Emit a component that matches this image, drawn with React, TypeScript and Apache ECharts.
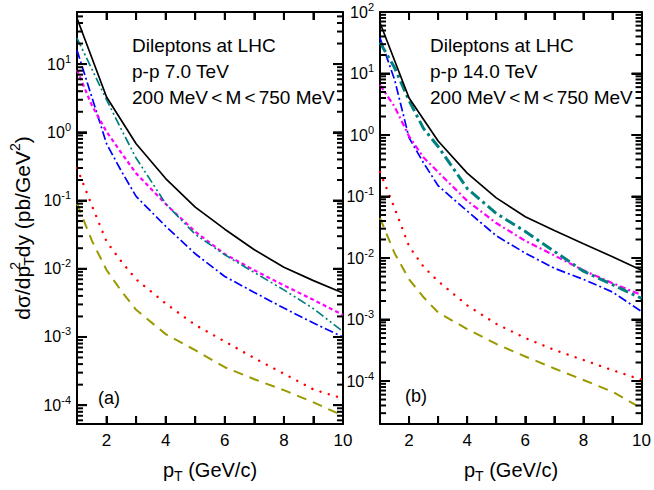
import React, { useEffect, useRef } from "react";
import * as echarts from "echarts";

const FONT = "'Liberation Sans', Arial, Helvetica, sans-serif";

// x grids
const xInt = [1, 2, 3, 4, 5, 6, 7, 8, 9, 10];
const xFine = [1, 1.5, 2, 2.5, 3, 4, 5, 6, 7, 8, 9, 10];

// Panel (a): p-p 7.0 TeV
const aTotal = [47, 3.3, 0.68, 0.21, 0.08, 0.038, 0.019, 0.0105, 0.0067, 0.0044];
const aTeal = [24, 8.5, 3.0, 1.1, 0.42, 0.09, 0.032, 0.016, 0.0088, 0.0049, 0.0026, 0.0012];
const aMagenta = [8.2, 2.5, 1.02, 0.5, 0.25, 0.089, 0.035, 0.0164, 0.0095, 0.0057, 0.0035, 0.0021];
const aBlue = [16, 3.3, 0.68, 0.27, 0.115, 0.042, 0.0166, 0.0077, 0.0045, 0.00265, 0.0016, 0.001];
const aRed = [0.3, 0.085, 0.025, 0.0128, 0.007, 0.0031, 0.0015, 0.00086, 0.00049, 0.00029, 0.00017, 0.000125];
const aOlive = [0.09, 0.026, 0.0096, 0.0047, 0.0025, 0.0011, 0.00064, 0.00036, 0.00024, 0.000166, 0.00011, 0.00007];

// Panel (b): p-p 14.0 TeV
const bTotal = [67, 4.0, 0.8, 0.24, 0.095, 0.047, 0.028, 0.017, 0.0105, 0.0063];
const bTeal = [32, 12.5, 3.6, 1.27, 0.65, 0.135, 0.053, 0.027, 0.0128, 0.0061, 0.0037, 0.0022];
const bMagenta = [6.5, 2.9, 0.95, 0.43, 0.25, 0.085, 0.037, 0.019, 0.011, 0.0063, 0.0039, 0.0025];
const bBlue = [38, 8, 0.9, 0.35, 0.15, 0.058, 0.023, 0.012, 0.0068, 0.0045, 0.0028, 0.00135];
const bRed = [0.25, 0.065, 0.0155, 0.0072, 0.0042, 0.0017, 0.00085, 0.0005, 0.00032, 0.00022, 0.00015, 0.000105];
const bOlive = [0.045, 0.012, 0.0045, 0.0023, 0.0013, 0.0007, 0.0004, 0.00025, 0.00016, 0.000104, 0.000067, 0.000036];

// axis ranges and ticks
const A_MIN = 5.3e-5;
const A_MAX = 58;
const B_MIN = 2e-5;
const B_MAX = 100;
const X_MIN = 1;
const X_MAX = 10;
const yMajorA = [1e-4, 1e-3, 1e-2, 1e-1, 1, 10];
const yMajorB = [1e-4, 1e-3, 1e-2, 1e-1, 1, 10, 100];
const xTickVals = [2, 3, 4, 5, 6, 7, 8, 9];
const xLabelVals = [2, 4, 6, 8, 10];

const textLines = ["Dileptons at LHC", "200 MeV\u2006<\u2006M\u2006<\u2006750 MeV"];
const energyA = "p-p 7.0 TeV";
const energyB = "p-p 14.0 TeV";

const Y_MAJOR_LEN = 10;
const Y_MINOR_LEN = 6;
const X_TICK_LEN = 8;
const TICK_W = 2;
const FRAME_W = 2;

function minorTicks(min: number, max: number): number[] {
  const out: number[] = [];
  for (let e = -6; e <= 3; e++) {
    for (let k = 2; k <= 9; k++) {
      const v = k * Math.pow(10, e);
      if (v > min && v < max) out.push(v);
    }
  }
  return out;
}

function pairs(xs: number[], ys: number[]) {
  return xs.map((x, i) => [x, ys[i]]);
}

function yTickList(yMin: number, yMax: number, majors: number[]) {
  return majors
    .filter((v) => v > yMin && v < yMax)
    .map((v) => ({ v, len: Y_MAJOR_LEN }))
    .concat(minorTicks(yMin, yMax).map((v) => ({ v, len: Y_MINOR_LEN })));
}

function yAxes(grid: number, min: number, max: number, majors: number[]) {
  const line = { show: true, lineStyle: { color: "#000", width: FRAME_W } };
  const tick = {
    show: true,
    inside: true,
    length: Y_MAJOR_LEN,
    customValues: majors,
    lineStyle: { color: "#000", width: TICK_W },
  };
  const base = {
    gridIndex: grid,
    type: "log",
    min,
    max,
    splitLine: { show: false },
    minorTick: { show: false },
  };
  return [
    {
      ...base,
      position: "left",
      axisLine: line,
      axisTick: tick,
      axisLabel: {
        show: true,
        customValues: majors,
        margin: 6,
        formatter: (v: number) => `{b|10}{e|${Math.round(Math.log10(v))}}`,
        rich: {
          b: { fontSize: 16, fontFamily: FONT, color: "#000", lineHeight: 22, verticalAlign: "middle" },
          e: { fontSize: 11, fontFamily: FONT, color: "#000", lineHeight: 12, verticalAlign: "top" },
        },
      },
    },
    {
      ...base,
      position: "right",
      axisLine: line,
      axisTick: tick,
      axisLabel: { show: false },
    },
  ];
}

function xAxes(grid: number) {
  const line = { show: true, lineStyle: { color: "#000", width: FRAME_W } };
  const base = {
    gridIndex: grid,
    type: "value",
    min: X_MIN,
    max: X_MAX,
    splitLine: { show: false },
    axisLine: line,
    axisTick: {
      show: true,
      inside: true,
      length: X_TICK_LEN,
      customValues: xTickVals,
      lineStyle: { color: "#000", width: TICK_W },
    },
  };
  return [
    {
      ...base,
      position: "bottom",
      axisLabel: { show: true, customValues: xLabelVals, fontSize: 17, fontFamily: FONT, color: "#000", margin: 8 },
    },
    { ...base, position: "top", axisLabel: { show: false } },
  ];
}

type Def = { xs: number[]; ys: number[]; color: string; width: number; dash: any; cap?: string };

function panelSeries(defs: Def[], grid: number) {
  return defs.map((d) => ({
    type: "line",
    xAxisIndex: grid * 2,
    yAxisIndex: grid * 2,
    data: pairs(d.xs, d.ys),
    showSymbol: false,
    symbol: "none",
    lineStyle: { color: d.color, width: d.width, type: d.dash, cap: d.cap || "butt" },
  }));
}

const TEAL = "#008080";
const BLUE = "#0000ff";
const MAGENTA = "#ff00ff";
const RED = "#ff0000";
const OLIVE = "#9a9a00";

export default function App() {
  const ref = useRef<HTMLDivElement>(null);
  useEffect(() => {
    if (!ref.current) return;
    const chart = echarts.init(ref.current, undefined, { renderer: "svg" });

    const defsA: Def[] = [
      { xs: xFine, ys: aOlive, color: OLIVE, width: 2, dash: [10, 7] },
      { xs: xFine, ys: aRed, color: RED, width: 2.4, dash: [0.1, 8.5], cap: "round" },
      { xs: xFine, ys: aBlue, color: BLUE, width: 1.7, dash: [9, 3, 2, 3] },
      { xs: xFine, ys: aMagenta, color: MAGENTA, width: 2.2, dash: [4, 3] },
      { xs: xFine, ys: aTeal, color: TEAL, width: 1.7, dash: [9, 3, 2, 3, 2, 3] },
      { xs: xInt, ys: aTotal, color: "#000000", width: 1.7, dash: "solid" },
    ];
    const defsB: Def[] = [
      { xs: xFine, ys: bOlive, color: OLIVE, width: 2, dash: [10, 7] },
      { xs: xFine, ys: bRed, color: RED, width: 2.4, dash: [0.1, 8.5], cap: "round" },
      { xs: xFine, ys: bBlue, color: BLUE, width: 1.7, dash: [9, 3, 2, 3] },
      { xs: xFine, ys: bMagenta, color: MAGENTA, width: 2.2, dash: [6, 3, 2, 3] },
      { xs: xFine, ys: bTeal, color: TEAL, width: 3, dash: [11, 4, 3, 4] },
      { xs: xInt, ys: bTotal, color: "#000000", width: 1.7, dash: "solid" },
    ];

    const txt = (x: number, y: number, text: string, size = 19) => ({
      type: "text",
      x,
      y,
      silent: true,
      style: {
        text,
        fontSize: size,
        fontFamily: FONT,
        fill: "#000",
        textVerticalAlign: "middle",
        verticalAlign: "middle",
      },
    });

    const xTitle = (cx: number) => ({
      type: "text",
      x: cx,
      y: 470,
      silent: true,
      style: {
        text: "p{sub|T} (GeV/c)",
        fontSize: 20,
        fontFamily: FONT,
        fill: "#000",
        textAlign: "center",
        align: "center",
        textVerticalAlign: "middle",
        verticalAlign: "middle",
        rich: {
          sub: { fontSize: 14, fontFamily: FONT, fill: "#000", lineHeight: 14, verticalAlign: "bottom" },
        },
        lineHeight: 26,
      },
    });

    const texts: any[] = [
      txt(132, 45.5, textLines[0]),
      txt(132, 71.5, energyA),
      txt(132, 97.5, textLines[1]),
      txt(430, 45.5, textLines[0]),
      txt(430, 71.5, energyB),
      txt(430, 97.5, textLines[1]),
      txt(98, 398, "(a)", 18),
      txt(405, 396, "(b)", 18),
      xTitle(210),
      xTitle(511),
      {
        type: "text",
        x: 22,
        y: 228,
        rotation: Math.PI / 2,
        silent: true,
        style: {
          text: "d\u03c3/dp{s2|2}{st|T}dy (pb/GeV{s|2})",
          fontSize: 21,
          fontFamily: FONT,
          fill: "#000",
          textAlign: "center",
          align: "center",
          textVerticalAlign: "middle",
          verticalAlign: "middle",
          lineHeight: 28,
          rich: {
            s2: { fontSize: 14, fontFamily: FONT, fill: "#000", lineHeight: 14, verticalAlign: "top", width: 0.1 },
            st: { fontSize: 14, fontFamily: FONT, fill: "#000", lineHeight: 14, verticalAlign: "bottom" },
            s: { fontSize: 14, fontFamily: FONT, fill: "#000", lineHeight: 14, verticalAlign: "top" },
          },
        },
      },
    ];

    chart.setOption({
      animation: false,
      textStyle: { fontFamily: FONT },
      grid: [
        { left: 77, top: 12, width: 266, height: 412 },
        { left: 380, top: 12, width: 262, height: 412 },
      ],
      xAxis: [...xAxes(0), ...xAxes(1)],
      yAxis: [...yAxes(0, A_MIN, A_MAX, yMajorA), ...yAxes(1, B_MIN, B_MAX, yMajorB)],
      series: [...panelSeries(defsA, 0), ...panelSeries(defsB, 1)],
      graphic: texts,
    });

    // inward tick marks on all four sides, positioned through the axes' scales
    const tickEls: any[] = [];
    const st = { stroke: "#000", lineWidth: TICK_W };
    const addTicks = (grid: number, yMin: number, yMax: number, majors: number[]) => {
      const finder = { xAxisIndex: grid * 2, yAxisIndex: grid * 2 };
      yTickList(yMin, yMax, majors).forEach(({ v, len }) => {
        const pl = chart.convertToPixel(finder, [X_MIN, v]) as number[];
        const pr = chart.convertToPixel(finder, [X_MAX, v]) as number[];
        if (!pl || !pr || isNaN(pl[1])) return;
        tickEls.push({ type: "line", silent: true, z: 100, shape: { x1: pl[0], y1: pl[1], x2: pl[0] + len, y2: pl[1] }, style: st });
        tickEls.push({ type: "line", silent: true, z: 100, shape: { x1: pr[0] - len, y1: pr[1], x2: pr[0], y2: pr[1] }, style: st });
      });
      xTickVals.forEach((x) => {
        const pb = chart.convertToPixel(finder, [x, yMin]) as number[];
        const pt = chart.convertToPixel(finder, [x, yMax]) as number[];
        if (!pb || !pt || isNaN(pb[0])) return;
        tickEls.push({ type: "line", silent: true, z: 100, shape: { x1: pb[0], y1: pb[1], x2: pb[0], y2: pb[1] - X_TICK_LEN }, style: st });
        tickEls.push({ type: "line", silent: true, z: 100, shape: { x1: pt[0], y1: pt[1], x2: pt[0], y2: pt[1] + X_TICK_LEN }, style: st });
      });
    };
    addTicks(0, A_MIN, A_MAX, yMajorA);
    addTicks(1, B_MIN, B_MAX, yMajorB);
    chart.setOption({ graphic: [...texts, ...tickEls] });

    return () => chart.dispose();
  }, []);
  return (
    <div
      ref={ref}
      style={{ position: "absolute", left: 0, top: 0, width: 654, height: 490, background: "#fff" }}
    />
  );
}
